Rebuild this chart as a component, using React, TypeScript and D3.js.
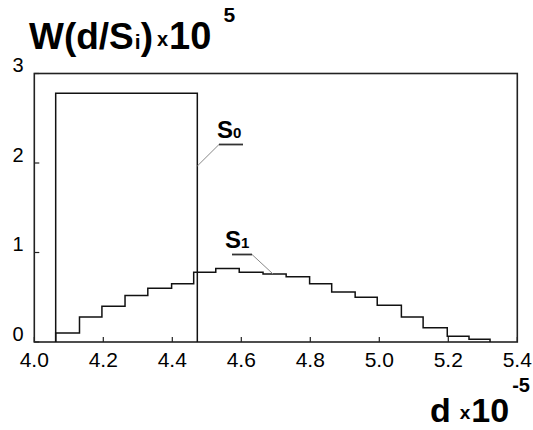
import React from "react";
import * as d3 from "d3";

const xTicks = [4.0, 4.2, 4.4, 4.6, 4.8, 5.0, 5.2, 5.4];
const yTicks = [0, 1, 2, 3];

// S0: single rectangular distribution
const s0Range = [4.062, 4.4725];
const s0Value = 2.78;

// S1: step histogram (bin edges and heights)
const s1Edges = [4.062, 4.131, 4.196, 4.263, 4.329, 4.398, 4.462, 4.526, 4.594, 4.663, 4.73, 4.798, 4.862, 4.93, 4.994, 5.064, 5.127, 5.197, 5.26, 5.321];
const s1Values = [0.10, 0.28, 0.40, 0.52, 0.60, 0.65, 0.78, 0.82, 0.78, 0.76, 0.73, 0.65, 0.56, 0.50, 0.41, 0.28, 0.16, 0.065, 0.03];

const FONT = "'Liberation Sans', Arial, sans-serif";

export default function App() {
  const W = 533, H = 430;
  const x = d3.scaleLinear().domain([4.0, 5.4]).range([34.3, 517.3]);
  const y = d3.scaleLinear().domain([0, 3]).range([342, 73.5]);

  const s1Points: [number, number][] = [[s1Edges[0], 0]];
  s1Values.forEach((v, i) => {
    s1Points.push([s1Edges[i], v]);
    s1Points.push([s1Edges[i + 1], v]);
  });
  s1Points.push([s1Edges[s1Edges.length - 1], 0]);
  const line = d3.line<[number, number]>().x(d => x(d[0])).y(d => y(d[1]));

  const s0Points: [number, number][] = [
    [s0Range[0], 0], [s0Range[0], s0Value], [s0Range[1], s0Value], [s0Range[1], 0],
  ];

  return (
    <svg width={W} height={H} style={{ position: "absolute", left: 0, top: 0, background: "#fff" }} fontFamily={FONT}>
      <rect x={0} y={0} width={W} height={H} fill="#fff" />
      {/* frame */}
      <rect x={x(4.0)} y={y(3)} width={x(5.4) - x(4.0)} height={y(0) - y(3)} fill="none" stroke="#222" strokeWidth={1.6} />
      {/* ticks */}
      {xTicks.map(t => (
        <g key={"xt" + t}>
          <line x1={x(t)} x2={x(t)} y1={y(0)} y2={y(0) - 5} stroke="#222" strokeWidth={1.2} />
          <text x={x(t)} y={367} fontSize={21} textAnchor="middle" fill="#000">{t.toFixed(1)}</text>
        </g>
      ))}
      {yTicks.map(t => (
        <g key={"yt" + t}>
          <line x1={x(4.0)} x2={x(4.0) + 5} y1={y(t)} y2={y(t)} stroke="#222" strokeWidth={1.2} />
          <text x={18} y={y(t) - 1.5} fontSize={20} textAnchor="middle" fill="#000">{t}</text>
        </g>
      ))}
      {/* series */}
      <path d={line(s0Points) || ""} fill="none" stroke="#111" strokeWidth={1.5} />
      <path d={line(s1Points) || ""} fill="none" stroke="#111" strokeWidth={1.5} />

      {/* S0 label */}
      <line x1={219} y1={144.5} x2={243} y2={144.5} stroke="#333" strokeWidth={1.8} />
      <line x1={219} y1={144.5} x2={x(s0Range[1])} y2={166} stroke="#888" strokeWidth={1} />
      <text x={217} y={137.5} fontWeight="bold" fill="#000">
        <tspan fontSize={24}>S</tspan><tspan fontSize={15}>0</tspan>
      </text>

      {/* S1 label */}
      <line x1={232} y1={254.5} x2={252} y2={254.5} stroke="#333" strokeWidth={1.8} />
      <line x1={252} y1={254.5} x2={273} y2={y(0.76)} stroke="#888" strokeWidth={1} />
      <text x={225} y={247.5} fontWeight="bold" fill="#000">
        <tspan fontSize={24}>S</tspan><tspan fontSize={15}>1</tspan>
      </text>

      {/* title */}
      <text x={29} y={49} fontWeight="bold" fill="#000">
        <tspan fontSize={37}>W(d/S</tspan>
        <tspan fontSize={21} dx={1}>i</tspan>
        <tspan fontSize={37}>)</tspan>
        <tspan fontSize={20} dx={4} dy={-3}>x</tspan>
        <tspan fontSize={38} dx={1} dy={3}>10</tspan>
        <tspan fontSize={21} dx={12} dy={-27}>5</tspan>
      </text>

      {/* x label */}
      <text x={430} y={422} fontWeight="bold" fill="#000">
        <tspan fontSize={34}>d</tspan>
        <tspan fontSize={19} dx={9} dy={-3}>x</tspan>
        <tspan fontSize={34} dx={1} dy={3}>10</tspan>
        <tspan fontSize={20} dx={3} dy={-30}>-5</tspan>
      </text>
    </svg>
  );
}
